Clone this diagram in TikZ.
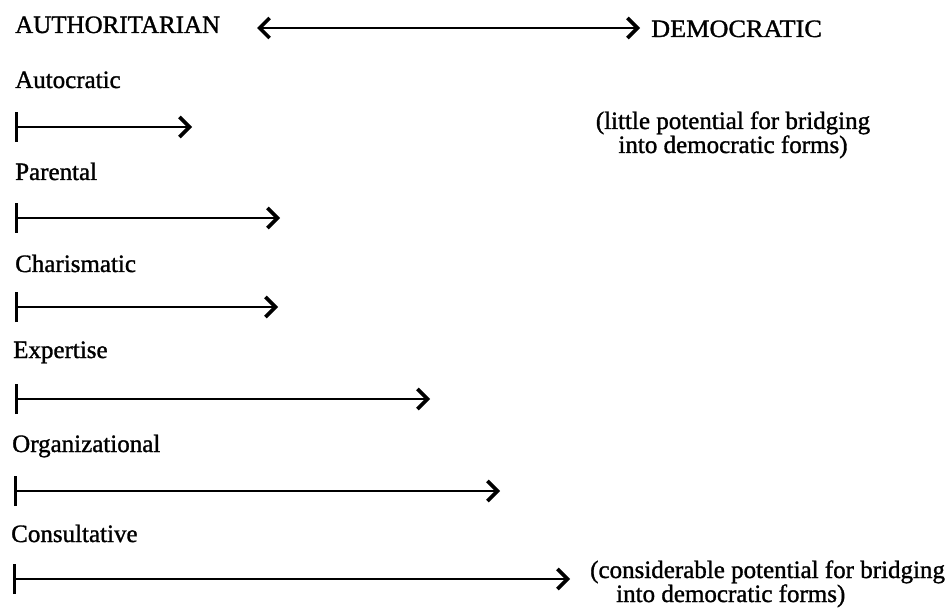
\documentclass[tikz,border=0pt]{standalone}
\usepackage{fontspec}
\setmainfont{Liberation Serif}[FakeBold=1.2]
\usetikzlibrary{arrows.meta}
\begin{document}
\begin{tikzpicture}[x=1pt,y=1pt,
  lbl/.style={anchor=base west,inner sep=0pt,font=\fontsize{25}{28}\selectfont},
  headtxt/.style={anchor=base west,inner sep=0pt,font=\fontsize{25}{28}\selectfont},
  notetxt/.style={anchor=base,inner sep=0pt,font=\fontsize{25}{28}\selectfont},
  notewest/.style={anchor=base west,inner sep=0pt,font=\fontsize{25}{28}\selectfont},
  rangearrow/.style={line width=2.8pt,
    {Bar[width=30pt,line width=3.4pt]}-{Straight Barb[length=10pt,width=20pt,line width=3.6pt]}},
  spectrum/.style={line width=2.8pt,
    {Straight Barb[length=10pt,width=20pt,line width=3.6pt]}-{Straight Barb[length=10pt,width=20pt,line width=3.6pt]}}]
\useasboundingbox (0,0) rectangle (947,-612);
\fill[white] (0,0) rectangle (947,-612);

% header
\node[headtxt] (auth) at (15,-33) {AUTHORITARIAN};
\node[headtxt] (demo) at (651,-37) {\scalebox{1.05}[1]{DEMOCRATIC}};
\coordinate (spL) at (257,-28);
\coordinate (spR) at (640,-28);
\draw[spectrum] (spL) -- (spR);

% notes
\node[notetxt] (n1a) at (733,-129) {(little potential for bridging};
\node[notetxt] (n1b) at (733,-153) {into democratic forms)};
\node[notewest] (n2a) at (590,-578) {(considerable potential for bridging};
\node[notewest] (n2b) at (616,-602) {into democratic forms)};

% rows
\node[lbl] (l1) at (15,-88) {Autocratic};
\coordinate (s1) at (15,-127); \coordinate (e1) at (192,-127);
\draw[rangearrow] (s1) -- (e1);

\node[lbl] (l2) at (15,-180) {Parental};
\coordinate (s2) at (15,-218); \coordinate (e2) at (280,-218);
\draw[rangearrow] (s2) -- (e2);

\node[lbl] (l3) at (15,-272) {Charismatic};
\coordinate (s3) at (15,-307); \coordinate (e3) at (278,-307);
\draw[rangearrow] (s3) -- (e3);

\node[lbl] (l4) at (13,-358) {Expertise};
\coordinate (s4) at (15,-399); \coordinate (e4) at (430,-399);
\draw[rangearrow] (s4) -- (e4);

\node[lbl] (l5) at (12,-452) {Organizational};
\coordinate (s5) at (14,-491); \coordinate (e5) at (500,-491);
\draw[rangearrow] (s5) -- (e5);

\node[lbl] (l6) at (11,-542) {Consultative};
\coordinate (s6) at (13,-579); \coordinate (e6) at (570,-579);
\draw[rangearrow] (s6) -- (e6);
\end{tikzpicture}
\end{document}
